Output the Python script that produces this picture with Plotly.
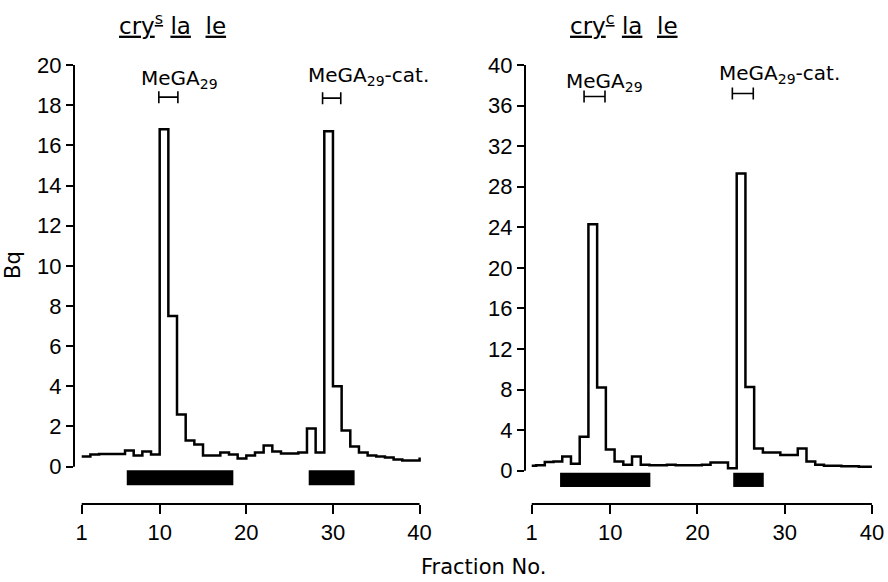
import plotly.graph_objects as go

# ---------------- data ----------------
fractions = list(range(1, 41))

# cry^s la le  (Bq per fraction)
left_bq = [0.5, 0.6, 0.63, 0.63, 0.63, 0.8, 0.55, 0.75, 0.6, 16.8,
           7.5, 2.6, 1.3, 1.1, 0.55, 0.55, 0.7, 0.6, 0.4, 0.55,
           0.7, 1.05, 0.75, 0.65, 0.65, 0.7, 1.9, 0.7, 16.7, 4.0,
           1.8, 1.0, 0.7, 0.55, 0.5, 0.45, 0.35, 0.3, 0.3, 0.45]

# cry^c la le  (Bq per fraction)
right_bq = [0.5, 0.55, 0.85, 0.9, 1.4, 0.7, 3.35, 24.3, 8.2, 2.1,
            0.9, 0.6, 1.4, 0.6, 0.55, 0.55, 0.6, 0.55, 0.55, 0.55,
            0.6, 0.8, 0.8, 0.25, 29.3, 8.25, 2.2, 1.8, 1.8, 1.55,
            1.55, 2.2, 0.9, 0.6, 0.5, 0.5, 0.45, 0.45, 0.4, 0.4]

# pooled fraction ranges (black bars)
left_pool_start = [6.2, 27.2]
left_pool_end = [18.5, 32.5]
right_pool_start = [4.25, 24.1]
right_pool_end = [14.6, 27.6]

# elution ranges of standards (brackets)
left_std_center = [11.0, 29.85]
left_std_half = [1.1, 1.05]
right_std_center = [8.2, 25.2]
right_std_half = [1.2, 1.2]
std_labels = ["MeGA<sub>29</sub>", "MeGA<sub>29</sub>-cat."]

x_ticks = [1, 10, 20, 30, 40]
left_y_ticks = list(range(0, 21, 2))
right_y_ticks = list(range(0, 41, 4))

W, H = 888, 582
TICKFONT = dict(family="Liberation Sans, Arial, sans-serif", size=22, color="black")
TEXTFONT = dict(family="DejaVu Sans, sans-serif", size=20, color="black")
TITLEFONT = dict(family="DejaVu Sans, sans-serif", size=23, color="black")
AXTITLEFONT = dict(family="DejaVu Sans, sans-serif", size=21, color="black")

fig = go.Figure()

def panel(xa, ya, vals, shape, p_start, p_end, bar_y, bar_w, s_c, s_h, s_y):
    fig.add_trace(go.Scatter(x=fractions, y=vals, mode="lines",
                             line=dict(shape=shape, color="black", width=2.5),
                             xaxis=xa, yaxis=ya, showlegend=False, hoverinfo="skip"))
    fig.add_trace(go.Bar(orientation="h", base=p_start,
                         x=[e - s for s, e in zip(p_start, p_end)],
                         y=[bar_y] * len(p_start), width=[bar_w] * len(p_start),
                         marker=dict(color="black", line=dict(width=0)),
                         xaxis=xa, yaxis=ya, showlegend=False, hoverinfo="skip"))
    fig.add_trace(go.Scatter(x=s_c, y=s_y, mode="markers",
                             marker=dict(size=1, color="rgba(0,0,0,0)"),
                             error_x=dict(type="data", array=s_h, symmetric=True,
                                          color="black", thickness=1.6, width=6),
                             xaxis=xa, yaxis=ya, showlegend=False, hoverinfo="skip"))

panel("x", "y", left_bq, "hv", left_pool_start, left_pool_end, -0.55, 0.75,
      left_std_center, left_std_half, [18.4, 18.35])
panel("x2", "y2", right_bq, "hvh", right_pool_start, right_pool_end, -0.9, 1.4,
      right_std_center, right_std_half, [36.9, 37.2])

ydom = [(H - 504) / H, (H - 60) / H]
common_x = dict(tickvals=x_ticks, ticks="outside", ticklen=9, tickwidth=2, tickcolor="black",
                showline=False, showgrid=False, zeroline=False, tickfont=TICKFONT,
                automargin=False)
common_y = dict(ticks="outside", ticklen=7, tickwidth=2, tickcolor="black",
                showline=False, showgrid=False, zeroline=False, tickfont=TICKFONT, domain=ydom,
                automargin=False)

fig.update_layout(
    width=W, height=H, margin=dict(l=0, r=0, t=0, b=0, autoexpand=False),
    paper_bgcolor="white", plot_bgcolor="white",
    xaxis=dict(domain=[74 / W, 430 / W], range=[0.11, 41.2], anchor="y", **common_x),
    yaxis=dict(range=[-1.86, 20.25], tickvals=left_y_ticks, anchor="x", **common_y),
    xaxis2=dict(domain=[525 / W, 885 / W], range=[0.23, 41.5], anchor="y2", **common_x),
    yaxis2=dict(range=[-3.28, 40.5], tickvals=right_y_ticks, anchor="x2", **common_y),
)

# axis lines spanning only the tick range
for xa, ya, yt in (("x", "y", left_y_ticks), ("x2", "y2", right_y_ticks)):
    fig.add_shape(type="line", xref=f"{xa} domain", yref=ya, x0=0, x1=0,
                  y0=yt[0], y1=yt[-1], line=dict(color="black", width=2))
    fig.add_shape(type="line", xref=xa, yref=f"{ya} domain", x0=x_ticks[0], x1=x_ticks[-1],
                  y0=0, y1=0, line=dict(color="black", width=2))

# standard labels
for xa, ya, xs, ys in (("x", "y", [12.3, 34.1], [19.3, 19.45]),
                       ("x2", "y2", [9.3, 29.4], [38.3, 39.1])):
    for lbl, xv, yv in zip(std_labels, xs, ys):
        fig.add_annotation(x=xv, y=yv, xref=xa, yref=ya, text=lbl, showarrow=False,
                           font=TEXTFONT, xanchor="center", yanchor="middle")

# titles
nb = "\u00a0"
fig.add_annotation(x=172 / W, y=1 - 24 / H, xref="paper", yref="paper", showarrow=False,
                   text=f"<u>cry</u><sup><u>s</u></sup>{nb}<u>la</u>{nb}{nb}<u>le</u>",
                   font=TITLEFONT, xanchor="center", yanchor="middle")
fig.add_annotation(x=624 / W, y=1 - 24 / H, xref="paper", yref="paper", showarrow=False,
                   text=f"<u>cry</u><sup><u>c</u></sup>{nb}<u>la</u>{nb}{nb}<u>le</u>",
                   font=TITLEFONT, xanchor="center", yanchor="middle")

# axis titles
fig.add_annotation(x=13 / W, y=1 - 265 / H, xref="paper", yref="paper", showarrow=False,
                   text="Bq", textangle=-90, font=AXTITLEFONT, xanchor="center", yanchor="middle")
fig.add_annotation(x=483 / W, y=1 - 567 / H, xref="paper", yref="paper", showarrow=False,
                   text="Fraction" + nb + "No.", font=AXTITLEFONT, xanchor="center", yanchor="middle")

fig.write_html("out.html", config={"displayModeBar": False},
               post_script="document.body.style.margin='0';document.body.style.overflow='hidden';")
